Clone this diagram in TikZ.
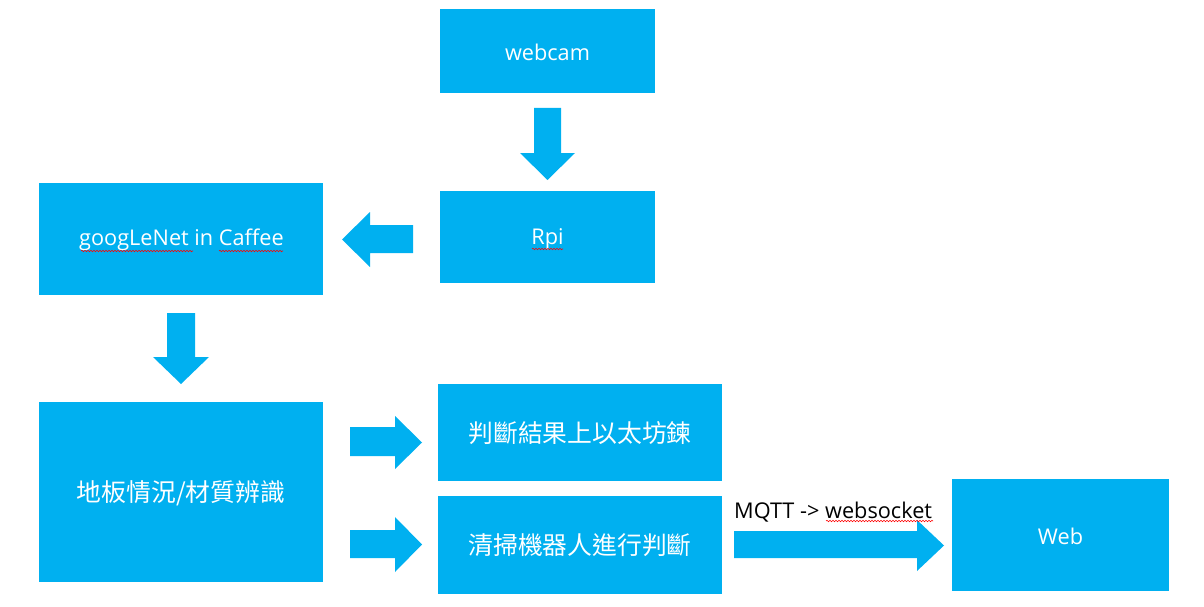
\documentclass[tikz,border=0pt]{standalone}
\usepackage{fontspec}
\setmainfont{Open Sans}
\newfontfamily\cjk{Noto Sans CJK TC}
\usetikzlibrary{decorations.pathmorphing}
\definecolor{boxblue}{HTML}{00B0F0}
\begin{document}
\begin{tikzpicture}[x=1pt,y=-1pt,
  box/.style={fill=boxblue,draw=none,inner sep=0pt,text=white},
  lat/.style={font=\fontsize{21.7}{25}\selectfont,text=white},
  han/.style={font=\cjk\fontsize{24.8}{29}\selectfont,text=white},
  blockarrow/.style={fill=boxblue,draw=none},
  squig/.style={draw=red,line width=0.6pt,decorate,decoration={snake,segment length=3pt,amplitude=0.7pt}}]
\useasboundingbox (0,0) rectangle (1204,607);
% boxes
\path[box] (440,9) rectangle (655,93);
\node[lat] (webcam) at (547.5,52) {webcam};
\path[box] (440,191) rectangle (655,283);
\node[lat] (rpi) at (547.5,239) {Rpi};
\path[box] (39,183) rectangle (323,295);
\node[lat] (goog) at (181.5,240) {googLeNet in Caffee};
\path[box] (39,402) rectangle (323,582);
\node[han] (floor) at (181,493) {地板情況/材質辨識};
\path[box] (438,384) rectangle (722,481);
\node[han] (chain) at (580,433) {判斷結果上以太坊鍊};
\path[box] (438,496) rectangle (722,594);
\node[han] (robot) at (580,545.5) {清掃機器人進行判斷};
\path[box] (952,479) rectangle (1169,591);
\node[lat] (web) at (1060.5,536) {Web};
% label
\node[anchor=base west,inner sep=0pt,font=\fontsize{21.7}{25}\selectfont,text=black] (mqtt) at (734,518) {MQTT -> websocket};
% block arrows
\fill[blockarrow] (534,108) -- (561,108) -- (561,153) -- (575,153) -- (547.5,180) -- (520,153) -- (534,153) -- cycle;
\fill[blockarrow] (413,225) -- (413,253) -- (370,253) -- (370,267) -- (342,239.5) -- (370,212) -- (370,225) -- cycle;
\fill[blockarrow] (167,313) -- (195,313) -- (195,357) -- (209,357) -- (181,384) -- (153,357) -- (167,357) -- cycle;
\fill[blockarrow] (350,427) -- (395,427) -- (395,416) -- (422,442.5) -- (395,469) -- (395,456) -- (350,456) -- cycle;
\fill[blockarrow] (350,530) -- (395,530) -- (395,517) -- (422,544.5) -- (395,572) -- (395,558) -- (350,558) -- cycle;
\fill[blockarrow] (734,531) -- (917,531) -- (917,520) -- (944,545.5) -- (917,571) -- (917,558) -- (734,558) -- cycle;
% spell-check squiggles
\draw[squig] (81,251) -- (193,251);
\draw[squig] (219,251) -- (283,251);
\draw[squig] (532,249) -- (563,249);
\draw[squig] (826,521) -- (933,521);
\end{tikzpicture}
\end{document}
